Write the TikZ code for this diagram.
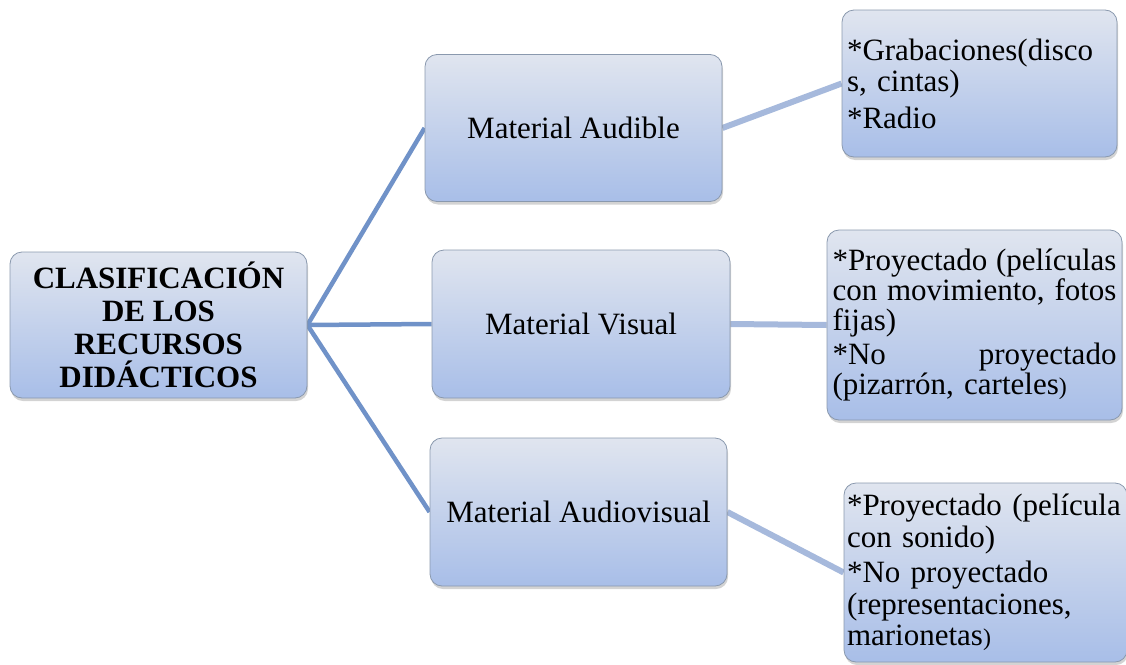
\documentclass[tikz,border=0pt]{standalone}
\usepackage{fontspec}
\setmainfont{Liberation Serif}
\usetikzlibrary{shadows,backgrounds}
\definecolor{topc}{HTML}{E0E5EF}
\definecolor{botc}{HTML}{A8BEE8}
\definecolor{edgec}{HTML}{8A99AE}
\definecolor{linkL}{HTML}{7092C8}
\definecolor{linkR}{HTML}{A6B9DC}
\newcommand\bigf{\fontsize{31}{31.5}\selectfont}
\newcommand\tightf{\fontsize{31}{30}\selectfont}
\newcommand\rootf{\fontsize{31}{33}\selectfont\bfseries}
\newcommand\jline[1]{\leavevmode\hbox to 284pt{#1}}
\newcommand\smp{{\fontsize{24}{24}\selectfont )}}
\begin{document}
\begin{tikzpicture}[x=1pt,y=-1pt,
  box/.style={draw=edgec, line width=0.8pt, rounded corners=12pt,
    top color=topc, bottom color=botc,
    drop shadow={shadow xshift=1pt,shadow yshift=-3pt,opacity=0.35},
    inner sep=0pt, font=\bigf},
  lconn/.style={linkL, line width=4.5pt},
  rconn/.style={linkR, line width=6pt}]
\useasboundingbox (0,0) rectangle (1126,664);
\node[box, minimum width=297pt, minimum height=146pt, align=center, font=\rootf] (root) at (158.5,325)
  {CLASIFICACIÓN\\DE LOS\\RECURSOS\\DIDÁCTICOS};
\node[box, minimum width=297pt, minimum height=147pt] (aud) at (573.5,128) {Material Audible};
\node[box, minimum width=298pt, minimum height=148pt] (vis) at (581,324) {Material Visual};
\node[box, minimum width=297pt, minimum height=148pt] (av) at (578.5,512) {Material Audiovisual};
\node[box, minimum width=275pt, minimum height=147pt, text width=265pt, align=left] (r1) at (979.5,83.5)
  {\noindent *Grabaciones(disco\\s, cintas)\\[5pt]*Radio};
\node[box, minimum width=295pt, minimum height=190pt, text width=284pt, align=left, font=\tightf] (r2) at (974.5,325)
  {\jline{*Proyectado\hfill(películas}\\\jline{con\hfill movimiento,\hfill fotos}\\fijas)\\[4pt]\jline{*No\hfill proyectado}\\(pizarrón, carteles\smp};
\node[box, minimum width=283pt, minimum height=179pt, text width=277pt, align=left] (r3) at (985.5,572.5)
  {\noindent *Proyectado (película\\con sonido)\\[4pt]*No proyectado\\(representaciones,\\marionetas\smp};
\begin{scope}[on background layer]
\draw[lconn] (root.east) -- (aud.west);
\draw[lconn] (root.east) -- (vis.west);
\draw[lconn] (root.east) -- (av.west);
\draw[rconn] (aud.east) -- (r1.west);
\draw[rconn] (vis.east) -- (r2.west);
\draw[rconn] (av.east) -- (r3.west);
\end{scope}
\end{tikzpicture}
\end{document}
